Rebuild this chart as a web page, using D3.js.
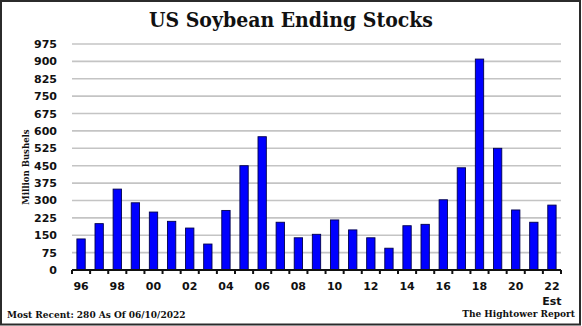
<!DOCTYPE html>
<html>
<head>
<meta charset="utf-8">
<script src="https://cdn.jsdelivr.net/npm/d3@7"></script>
<style>
  html, body { margin: 0; padding: 0; background: #fff; }
  svg { display: block; }
</style>
</head>
<body>
<svg id="chart" width="582" height="326"></svg>
<script>
// US soybean ending stocks by marketing year (million bushels)
const years = ["96","97","98","99","00","01","02","03","04","05","06","07","08","09",
               "10","11","12","13","14","15","16","17","18","19","20","21","22"];
const stocks = [134, 200, 349, 290, 250, 210, 181, 112, 257, 450, 575, 206, 139, 154,
                216, 173, 139, 94, 191, 197, 303, 441, 910, 525, 259, 206, 280];
const xTickLabels = ["96","98","00","02","04","06","08","10","12","14","16","18","20","22"];
const yTicks = [0, 75, 150, 225, 300, 375, 450, 525, 600, 675, 750, 825, 900, 975];

const W = 582, H = 326;
const plot = { left: 72, right: 561, top: 44, bottom: 270 };

const svg = d3.select("#chart");

// outer frame
svg.append("rect")
  .attr("x", 1).attr("y", 1)
  .attr("width", W - 3).attr("height", H - 2.5)
  .attr("fill", "#fff")
  .attr("stroke", "#2b2b2b")
  .attr("stroke-width", 2);

const x = d3.scaleBand()
  .domain(years)
  .range([plot.left, plot.right])
  .paddingInner(0.54)
  .paddingOuter(0.27);

const y = d3.scaleLinear()
  .domain([0, 975])
  .range([plot.bottom, plot.top]);

// title
svg.append("text")
  .attr("x", 291).attr("y", 27)
  .attr("text-anchor", "middle")
  .style("font-family", "'DejaVu Serif Condensed', 'DejaVu Serif', serif")
  .style("font-weight", "bold")
  .style("font-size", "21px")
  .attr("fill", "#111")
  .text("US Soybean Ending Stocks");

// horizontal gridlines
svg.append("g")
  .selectAll("line")
  .data(yTicks.filter(d => d > 0))
  .join("line")
  .attr("x1", plot.left).attr("x2", plot.right)
  .attr("y1", d => y(d)).attr("y2", d => y(d))
  .attr("stroke", "#c4c4c4")
  .attr("stroke-width", 1.6);

// y axis labels
const yAxis = d3.axisLeft(y).tickValues(yTicks).tickSize(0).tickPadding(15);
const gy = svg.append("g")
  .attr("transform", `translate(${plot.left},0)`)
  .call(yAxis);
gy.select(".domain").remove();
gy.selectAll("text")
  .style("font-family", "'DejaVu Sans', Verdana, sans-serif")
  .style("font-weight", "bold")
  .style("font-size", "11px")
  .attr("fill", "#111");

// y axis title
svg.append("text")
  .attr("transform", "translate(29,167) rotate(-90)")
  .attr("text-anchor", "middle")
  .style("font-family", "'DejaVu Serif Condensed', 'DejaVu Serif', serif")
  .style("font-weight", "bold")
  .style("font-size", "9.5px")
  .attr("fill", "#111")
  .text("Million Bushels");

// bars
svg.append("g")
  .selectAll("rect")
  .data(years.map((yr, i) => ({ yr, v: stocks[i] })))
  .join("rect")
  .attr("x", d => x(d.yr))
  .attr("width", x.bandwidth())
  .attr("y", d => y(d.v))
  .attr("height", d => y(0) - y(d.v))
  .attr("fill", "#0000ff")
  .attr("stroke", "#00004d")
  .attr("stroke-width", 0.9);

// x axis line with ticks at category boundaries
const gx = svg.append("g");
gx.append("line")
  .attr("x1", plot.left).attr("x2", plot.right)
  .attr("y1", y(0)).attr("y2", y(0))
  .attr("stroke", "#111").attr("stroke-width", 2);
const step = x.step();
const x0 = x.range()[0];
gx.selectAll("line.tick")
  .data(d3.range(years.length + 1))
  .join("line")
  .attr("class", "tick")
  .attr("x1", i => x0 + i * step).attr("x2", i => x0 + i * step)
  .attr("y1", y(0)).attr("y2", y(0) + 4)
  .attr("stroke", "#111").attr("stroke-width", 2);

// x tick labels
gx.selectAll("text.lbl")
  .data(xTickLabels)
  .join("text")
  .attr("class", "lbl")
  .attr("x", d => x(d) + x.bandwidth() / 2)
  .attr("y", 290)
  .attr("text-anchor", "middle")
  .style("font-family", "'DejaVu Sans', Verdana, sans-serif")
  .style("font-weight", "bold")
  .style("font-size", "11px")
  .attr("fill", "#111")
  .text(d => d);

svg.append("text")
  .attr("x", x("22") + x.bandwidth() / 2)
  .attr("y", 305)
  .attr("text-anchor", "middle")
  .style("font-family", "'DejaVu Sans', Verdana, sans-serif")
  .style("font-weight", "bold")
  .style("font-size", "11px")
  .attr("fill", "#111")
  .text("Est");

// footer notes
svg.append("text")
  .attr("x", 7).attr("y", 318)
  .style("font-family", "'DejaVu Serif Condensed', 'DejaVu Serif', serif")
  .style("font-weight", "bold")
  .style("font-size", "10px")
  .attr("fill", "#111")
  .text("Most Recent: 280 As Of 06/10/2022");

svg.append("text")
  .attr("x", 575).attr("y", 317)
  .attr("text-anchor", "end")
  .style("font-family", "'DejaVu Serif Condensed', 'DejaVu Serif', serif")
  .style("font-weight", "bold")
  .style("font-size", "10px")
  .attr("fill", "#111")
  .text("The Hightower Report");
</script>
</body>
</html>
